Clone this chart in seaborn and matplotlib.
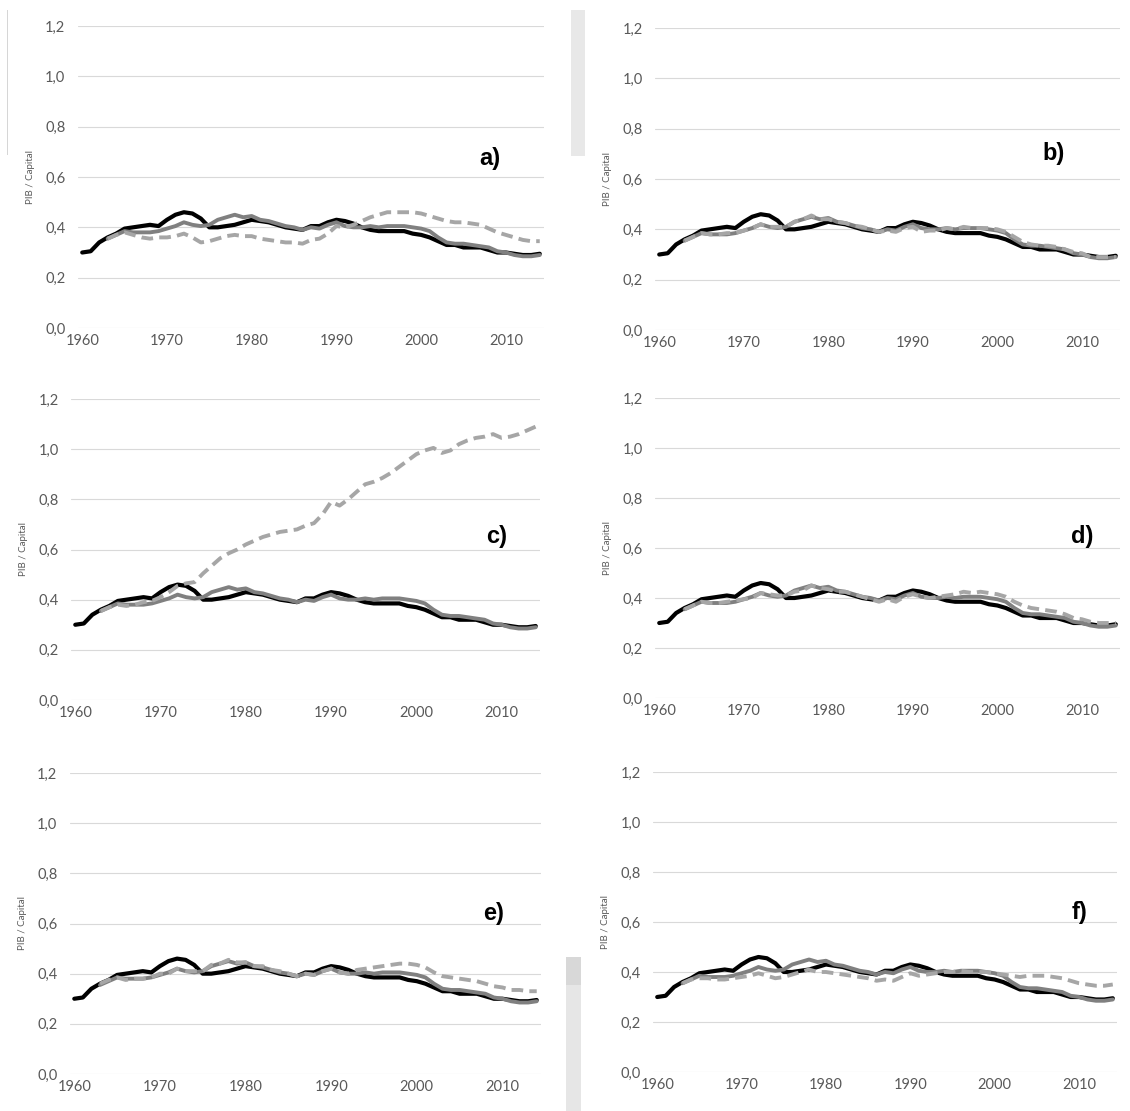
import matplotlib
matplotlib.use("Agg")
import matplotlib.pyplot as plt
from matplotlib.patches import Rectangle
import seaborn as sns

# years
years = list(range(1960, 2015))
model_years = list(range(1963, 2015))

# observed PIB / Capital (black line, same in all panels)
observed = [
    0.300, 0.305, 0.340, 0.360, 0.375, 0.395, 0.400, 0.405, 0.410, 0.405,  # 1960s
    0.430, 0.450, 0.460, 0.455, 0.435, 0.400, 0.400, 0.405, 0.410, 0.420,  # 1970s
    0.430, 0.425, 0.420, 0.410, 0.400, 0.395, 0.390, 0.405, 0.405, 0.420,  # 1980s
    0.430, 0.425, 0.415, 0.400, 0.390, 0.385, 0.385, 0.385, 0.385, 0.375,  # 1990s
    0.370, 0.360, 0.345, 0.330, 0.330, 0.320, 0.320, 0.320, 0.310, 0.300,  # 2000s
    0.300, 0.295, 0.290, 0.290, 0.295,
]

# baseline simulation (solid gray, same in all panels), 1963-2014
baseline = [
    0.355, 0.370, 0.385, 0.380, 0.380, 0.380, 0.385,
    0.395, 0.405, 0.420, 0.410, 0.405, 0.410, 0.430, 0.440, 0.450, 0.440,
    0.445, 0.430, 0.425, 0.415, 0.405, 0.400, 0.390, 0.400, 0.395, 0.410,
    0.420, 0.405, 0.400, 0.400, 0.405, 0.400, 0.405, 0.405, 0.405, 0.400,
    0.395, 0.385, 0.360, 0.340, 0.335, 0.335, 0.330, 0.325, 0.320, 0.305,
    0.300, 0.290, 0.285, 0.285, 0.290,
]

# counterfactual scenarios (dashed gray), 1963-2014
scenario_a = [
    0.355, 0.370, 0.380, 0.370, 0.360, 0.355, 0.360,
    0.360, 0.365, 0.375, 0.360, 0.340, 0.345, 0.355, 0.365, 0.370, 0.365,
    0.365, 0.355, 0.350, 0.345, 0.340, 0.340, 0.335, 0.350, 0.355, 0.375,
    0.405, 0.400, 0.410, 0.425, 0.440, 0.450, 0.460, 0.460, 0.460, 0.460,
    0.455, 0.445, 0.435, 0.425, 0.420, 0.420, 0.415, 0.410, 0.395, 0.380,
    0.370, 0.360, 0.350, 0.345, 0.345,
]
scenario_b = [
    0.355, 0.370, 0.385, 0.380, 0.380, 0.385, 0.385,
    0.395, 0.405, 0.420, 0.410, 0.410, 0.410, 0.430, 0.440, 0.455, 0.440,
    0.440, 0.430, 0.425, 0.415, 0.410, 0.400, 0.390, 0.395, 0.390, 0.405,
    0.410, 0.390, 0.395, 0.395, 0.405, 0.400, 0.410, 0.405, 0.405, 0.405,
    0.400, 0.390, 0.370, 0.350, 0.340, 0.335, 0.335, 0.330, 0.320, 0.310,
    0.305, 0.290, 0.290, 0.290, 0.290,
]
scenario_c = [
    0.355, 0.370, 0.380, 0.375, 0.380, 0.390, 0.395,
    0.410, 0.430, 0.455, 0.465, 0.470, 0.505, 0.535, 0.565, 0.585, 0.600,
    0.620, 0.635, 0.650, 0.660, 0.670, 0.675, 0.680, 0.695, 0.705, 0.740,
    0.790, 0.775, 0.800, 0.830, 0.860, 0.870, 0.885, 0.905, 0.930, 0.955,
    0.980, 0.995, 1.005, 0.985, 0.995, 1.020, 1.035, 1.045, 1.050, 1.060,
    1.045, 1.050, 1.060, 1.075, 1.090,
]
scenario_d = [
    0.355, 0.370, 0.385, 0.380, 0.380, 0.385, 0.390,
    0.395, 0.400, 0.420, 0.415, 0.410, 0.410, 0.425, 0.430, 0.450, 0.440,
    0.435, 0.425, 0.425, 0.415, 0.405, 0.395, 0.385, 0.395, 0.385, 0.405,
    0.415, 0.405, 0.400, 0.405, 0.410, 0.415, 0.425, 0.420, 0.425, 0.420,
    0.415, 0.405, 0.385, 0.370, 0.360, 0.355, 0.350, 0.345, 0.335, 0.320,
    0.315, 0.305, 0.300, 0.300, 0.300,
]
scenario_e = [
    0.360, 0.375, 0.385, 0.375, 0.380, 0.380, 0.385,
    0.400, 0.400, 0.420, 0.410, 0.410, 0.410, 0.435, 0.440, 0.455, 0.445,
    0.445, 0.430, 0.430, 0.415, 0.410, 0.400, 0.390, 0.400, 0.395, 0.410,
    0.420, 0.405, 0.400, 0.415, 0.420, 0.425, 0.430, 0.435, 0.440, 0.440,
    0.435, 0.425, 0.405, 0.390, 0.385, 0.380, 0.375, 0.370, 0.360, 0.350,
    0.345, 0.335, 0.335, 0.330, 0.330,
]
scenario_f = [
    0.355, 0.370, 0.375, 0.375, 0.370, 0.370, 0.375,
    0.380, 0.385, 0.395, 0.385, 0.375, 0.380, 0.390, 0.400, 0.410, 0.400,
    0.400, 0.395, 0.390, 0.385, 0.380, 0.375, 0.365, 0.370, 0.365, 0.380,
    0.395, 0.385, 0.390, 0.395, 0.400, 0.400, 0.405, 0.400, 0.400, 0.400,
    0.395, 0.390, 0.385, 0.380, 0.385, 0.385, 0.385, 0.380, 0.375, 0.365,
    0.355, 0.350, 0.345, 0.345, 0.350,
]

panel_names = ["a)", "b)", "c)", "d)", "e)", "f)"]
scenarios = [scenario_a, scenario_b, scenario_c, scenario_d, scenario_e, scenario_f]
x_ticks = [1960, 1970, 1980, 1990, 2000, 2010]
y_ticks = [0.0, 0.2, 0.4, 0.6, 0.8, 1.0, 1.2]

# layout in pixels: (left, top, right, bottom) of each plot area
boxes = [
    (78, 26, 544, 328), (655, 28, 1120, 330),
    (71, 399, 540, 700), (655, 398, 1120, 698),
    (70, 773, 541, 1074), (653, 772, 1117, 1072),
]
# where the panel letter sits (data coords)
label_pos = [(2008.1, 0.675), (2006.6, 0.70), (2009.4, 0.65),
             (2010.0, 0.645), (2009.0, 0.64), (2010.1, 0.64)]

sns.set_theme(style="white")
plt.rcParams["font.family"] = ["Lato", "DejaVu Sans"]

W, H = 1130, 1111
fig = plt.figure(figsize=(W / 100, H / 100), dpi=100)
fig.patch.set_facecolor("white")

tick_color = "#595959"

for i, scen in enumerate(scenarios):
    l, t, r, b = boxes[i]
    ax = fig.add_axes([l / W, 1 - b / H, (r - l) / W, (b - t) / H])

    sns.lineplot(x=years, y=observed, ax=ax, color="black", linewidth=3.0,
                 errorbar=None, zorder=3)
    sns.lineplot(x=model_years, y=baseline, ax=ax, color="#808080", linewidth=2.8,
                 errorbar=None, zorder=4)
    sns.lineplot(x=model_years, y=scen, ax=ax, color="#a6a6a6", linewidth=2.8,
                 linestyle=(0, (3.0, 1.6)), errorbar=None, zorder=5)

    ax.set_xlim(1959.5, 2014.5)
    ax.set_ylim(0, 1.2)
    ax.set_xticks(x_ticks)
    ax.set_xticklabels([str(v) for v in x_ticks])
    ax.set_yticks(y_ticks)
    ax.set_yticklabels([f"{v:.1f}".replace(".", ",") for v in y_ticks])
    ax.tick_params(axis="both", length=0, labelsize=10.5, labelcolor=tick_color)
    ax.tick_params(axis="y", pad=9)
    ax.tick_params(axis="x", pad=4)
    ax.grid(axis="y", color="#d9d9d9", linewidth=0.8, zorder=0)
    ax.grid(axis="x", visible=False)
    for s in ax.spines.values():
        s.set_visible(False)
    ax.set_facecolor("none")

    ax.set_xlabel("")
    ax.set_ylabel("PIB / Capital", fontsize=7, color=tick_color)
    ax.yaxis.set_label_coords(-0.092, 0.5)

    lx, ly = label_pos[i]
    ax.text(lx, ly, panel_names[i], fontsize=17, fontweight="bold",
            family=["Liberation Sans", "DejaVu Sans"], ha="center", va="center",
            color="black")

# scan artefacts around the panels
fig.add_artist(Rectangle((7 / W, 1 - 155 / H), 1 / W, 145 / H,
                         transform=fig.transFigure, color="#d6d6d6", lw=0))
fig.add_artist(Rectangle((571 / W, 1 - 156 / H), 14 / W, 146 / H,
                         transform=fig.transFigure, color="#e8e8e8", lw=0))
fig.add_artist(Rectangle((566 / W, 0), 15 / W, 154 / H,
                         transform=fig.transFigure, color="#e6e6e6", lw=0))
fig.add_artist(Rectangle((566 / W, 1 - 985 / H), 15 / W, 28 / H,
                         transform=fig.transFigure, color="#d8d8d8", lw=0))

fig.savefig("out.png", dpi=100, facecolor="white")
